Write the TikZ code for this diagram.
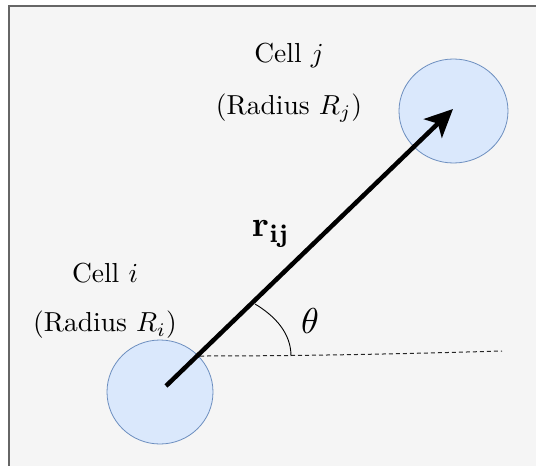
\documentclass[tikz,border=0pt]{standalone}
\usepackage{amsmath}
\usetikzlibrary{arrows.meta,shapes.geometric}
\definecolor{bgc}{HTML}{F5F5F5}
\definecolor{framec}{HTML}{666666}
\definecolor{cellfill}{HTML}{DAE8FC}
\definecolor{celldraw}{HTML}{6C8EBF}
\tikzset{
  cell/.style={ellipse, draw=celldraw, fill=cellfill, line width=0.8pt},
  lbl/.style={font=\fontsize{10}{12}\selectfont, inner sep=0pt, scale=2.75, transform shape},
  big/.style={font=\fontsize{10}{12}\selectfont, inner sep=0pt, scale=3.6, transform shape},
}
\begin{document}
\begin{tikzpicture}[x=1pt,y=-1pt]
\useasboundingbox (0,0) rectangle (536,466);
\fill[white] (0,0) rectangle (536,466);
\fill[bgc] (9,6) rectangle (536,466);
\draw[framec, line width=1.2pt] (9,466) -- (9,6) -- (536,6);
% cells
\node[cell, minimum width=106pt, minimum height=104pt] (ci) at (160,392) {};
\node[cell, minimum width=109pt, minimum height=104pt] (cj) at (453.5,111) {};
\coordinate (s) at (166,386);
\coordinate (t) at (453,109);
\coordinate (d0) at (200,356);
\coordinate (d1) at (502,351);
\coordinate (a0) at (255,304);
\coordinate (a1) at (291,356);
\draw[dash pattern=on 4pt off 3pt, line width=1pt, black!85] (d0) .. controls (300,356) and (400,354) .. (d1);
\draw[line width=0.9pt] (a0) .. controls (275,316) and (291,333) .. (a1);
\draw[line width=4.5pt, -{Stealth[length=28pt, width=26pt, inset=7pt]}] (s) -- (t);
% labels
\node[lbl] (lj1) at (289,55) {Cell $j$};
\node[lbl] (lj2) at (289,108) {(Radius $R_j$)};
\node[lbl] (li1) at (105,273) {Cell $i$};
\node[lbl] (li2) at (105,325) {(Radius $R_i$)};
\node[big] (r) at (271,234) {$\mathbf{r_{ij}}$};
\node[big] (th) at (310,321) {$\theta$};
\end{tikzpicture}
\end{document}
